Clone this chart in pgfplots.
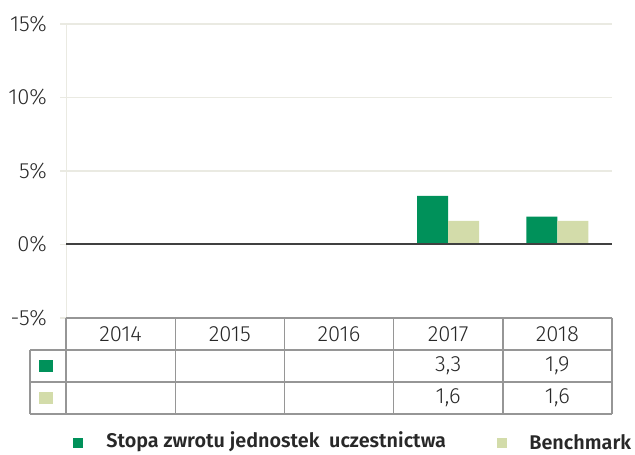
\documentclass[border=0pt]{standalone}
\usepackage{fontspec}
\setmainfont{Fira Sans Light}[BoldFont={Fira Sans SemiBold}]
\usepackage{pgfplots}
\pgfplotsset{compat=1.18}
\definecolor{fund}{RGB}{0,145,90}
\definecolor{bench}{RGB}{211,220,170}
\definecolor{gridc}{RGB}{234,234,226}
\definecolor{tabc}{RGB}{150,150,150}
\definecolor{txt}{RGB}{40,40,40}
\begin{document}
\begin{tikzpicture}[x=1pt,y=1pt]
\useasboundingbox (-33,-68) rectangle (284.5,159);
\begin{axis}[
  at={(0,0)}, anchor=south west, scale only axis,
  width=273pt, height=147pt,
  xmin=-0.5, xmax=4.5, ymin=-5, ymax=15,
  ytick={-5,0,5,10,15},
  xtick=\empty,
  axis x line=none,
  axis y line=left,
  y axis line style={gridc,-},
  ymajorgrids, grid style={gridc, line width=0.8pt},
  tick align=outside, major tick length=3pt,
  tick style={gridc, line width=0.8pt},
  /pgf/number format/assume math mode=true,
  yticklabel={\pgfmathprintnumber{\tick}\%},
  yticklabel style={font=\fontsize{11}{13}\selectfont, text=txt, xshift=-3pt},
  clip=false,
]
\addplot[ybar, bar width=15.5pt, bar shift=-7.75pt, fill=fund, draw=none] coordinates {(3,3.3) (4,1.9)};
\addplot[ybar, bar width=15.5pt, bar shift=7.75pt, fill=bench, draw=none] coordinates {(3,1.6) (4,1.6)};
\addplot[black!75, line width=1pt, forget plot] coordinates {(-0.5,0) (4.5,0)};
\end{axis}
% data table
\begin{scope}[tabc, line width=0.7pt]
\draw (0,0) -- (273,0);
\draw (-18,-16) -- (273,-16);
\draw (-18,-32) -- (273,-32);
\draw (-18,-48) -- (273,-48);
\foreach \i in {0,...,5} { \draw (54.6*\i,0) -- (54.6*\i,-48); }
\draw (-18,-16) -- (-18,-48);
\end{scope}
\begin{scope}[font=\fontsize{11}{13}\selectfont, text=txt]
\foreach \y [count=\i from 0] in {2014,2015,2016,2017,2018} { \node at (27.3+54.6*\i,-8) {\y}; }
\node at (191.1,-24) {3,3};
\node at (245.7,-24) {1,9};
\node at (191.1,-40) {1,6};
\node at (245.7,-40) {1,6};
\end{scope}
\fill[fund] (-13.5,-27.2) rectangle (-6.5,-20.8);
\fill[bench] (-13.5,-43.2) rectangle (-6.5,-36.8);
% legend
\fill[fund] (3.5,-65) rectangle (8.5,-60);
\node[anchor=west, inner sep=0pt, font=\fontsize{9.9}{12}\selectfont\bfseries, text=txt] at (20,-62) {Stopa zwrotu jednostek\ \ uczestnictwa};
\fill[bench] (215.5,-65) rectangle (220.5,-60);
\node[anchor=west, inner sep=0pt, font=\fontsize{9.9}{12}\selectfont\bfseries, text=txt] at (231.5,-62) {Benchmark};
\end{tikzpicture}
\end{document}
